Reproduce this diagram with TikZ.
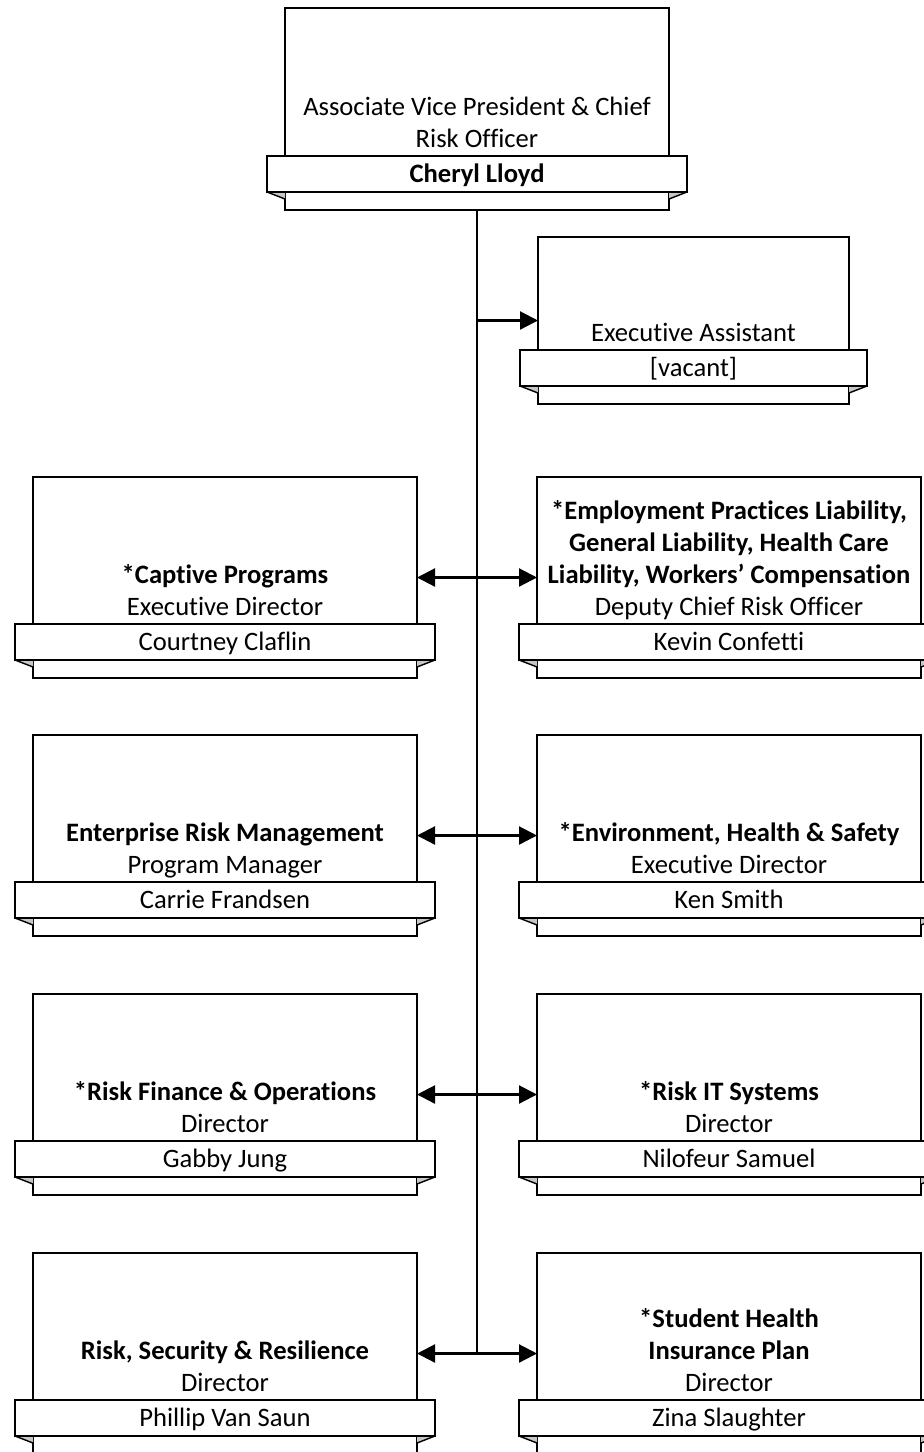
\documentclass[tikz,border=0pt]{standalone}
\usepackage{fontspec}
\setmainfont{Carlito}[Ligatures=NoCommon]
\usetikzlibrary{calc,arrows.meta}
\newcommand\mystrut{\rule[-6pt]{0pt}{6pt}}
\tikzset{
 obox/.style={draw=black, line width=1.4pt, fill=white, rectangle, inner sep=0pt, outer sep=0pt},
 banner/.style={draw=black, line width=2pt, fill=white, rectangle, inner sep=0pt, outer sep=0pt},
 foldtri/.style={fill=black!22},
 foldline/.style={draw=black, line width=1.4pt},
 ttl/.style={align=center, inner sep=0pt, anchor=south, font=\fontsize{26.6}{32}\selectfont},
 nm/.style={inner sep=0pt, anchor=base, font=\fontsize{26.6}{32}\selectfont},
 trunk/.style={line width=2.2pt},
 tipone/.style={line width=2.2pt, -{Triangle[length=18pt,width=18pt]}},
 tiptwo/.style={line width=2.2pt, {Triangle[length=18pt,width=18pt]}-{Triangle[length=18pt,width=18pt]}},
}
\newcommand\orgbox[7]{%
 \pgfmathsetmacro\bw{#4+36}%
 \node[obox, minimum width=#4, minimum height=#5, anchor=north west] (#1) at (#2,#3) {};
 \fill[foldtri] ($(#1.south west)+(-18,-18)$) -- ($(#1.south west)+(0,-18)$) -- ($(#1.south west)+(0,-11)$) -- cycle;
 \fill[foldtri] ($(#1.south east)+(18,-18)$) -- ($(#1.south east)+(0,-18)$) -- ($(#1.south east)+(0,-11)$) -- cycle;
 \draw[foldline] ($(#1.south west)+(-18,-18)$) -- ($(#1.south west)+(0,-11)$);
 \draw[foldline] ($(#1.south east)+(18,-18)$) -- ($(#1.south east)+(0,-11)$);
 \node[banner, minimum width=\bw, minimum height=36, anchor=south west] (#1-b) at ($(#1.south west)+(-18,-18)$) {};
 \node[ttl] (#1-t) at ($(#1-b.north)+(0,-2)$) {#6\mystrut};
 \node[nm] (#1-n) at ($(#1-b.south)+(0,-10)$) {#7};
}
\begin{document}
\begin{tikzpicture}[x=1pt,y=-1pt]
\clip (0,0) rectangle (924,1452);
\fill[white] (0,0) rectangle (924,1452);

\orgbox{ceo}{285}{8}{384}{202}{Associate Vice President \& Chief\\Risk Officer}{\textbf{Cheryl Lloyd}}
\orgbox{ea}{538}{237}{311}{167}{Executive Assistant}{[vacant]}

\orgbox{cap}{33}{477}{384}{201}{\textbf{*Captive Programs}\\Executive Director}{Courtney Claflin}
\orgbox{epl}{537}{477}{384}{201}{\textbf{*Employment Practices Liability,}\\\textbf{General Liability, Health Care}\\\textbf{Liability, Workers’ Compensation}\\Deputy Chief Risk Officer}{Kevin Confetti}

\orgbox{erm}{33}{735}{384}{201}{\textbf{Enterprise Risk Management}\\Program Manager}{Carrie Frandsen}
\orgbox{ehs}{537}{735}{384}{201}{\textbf{*Environment, Health \& Safety}\\Executive Director}{Ken Smith}

\orgbox{rfo}{33}{994}{384}{201}{\textbf{*Risk Finance \& Operations}\\Director}{Gabby Jung}
\orgbox{rit}{537}{994}{384}{201}{\textbf{*Risk IT Systems}\\Director}{Nilofeur Samuel}

\orgbox{rsr}{33}{1253}{384}{201}{\textbf{Risk, Security \& Resilience}\\Director}{Phillip Van Saun}
\orgbox{ship}{537}{1253}{384}{201}{\textbf{*Student Health}\\\textbf{Insurance Plan}\\Director}{Zina Slaughter}

\coordinate (j0) at (ceo.south |- ea.west);
\coordinate (j4) at (ceo.south |- rsr.east);
\draw[trunk] (ceo.south) -- (j4);
\draw[tipone] (j0) -- (ea.west);
\draw[tiptwo] (cap.east) -- (epl.west);
\draw[tiptwo] (erm.east) -- (ehs.west);
\draw[tiptwo] (rfo.east) -- (rit.west);
\draw[tiptwo] (rsr.east) -- (ship.west);
\end{tikzpicture}
\end{document}
